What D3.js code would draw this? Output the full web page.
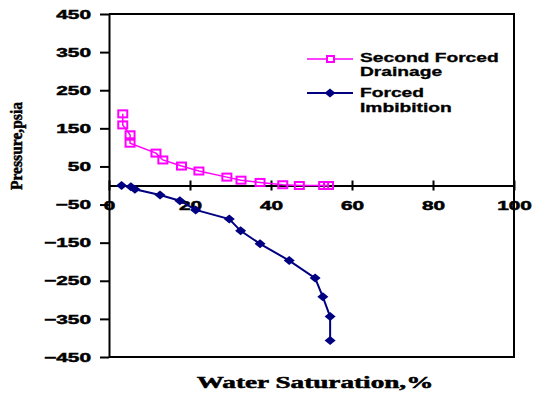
<!DOCTYPE html>
<html>
<head>
<meta charset="utf-8">
<script src="https://cdn.jsdelivr.net/npm/d3@7"></script>
<style>
  body { margin: 0; background: #fff; }
  svg { display: block; }
  .tick text { font-family: "Liberation Sans", Arial, sans-serif; font-weight: bold; font-size: 13px; fill: #000; stroke: #000; stroke-width: 0.5px; }
</style>
</head>
<body>
<svg width="538" height="398"></svg>
<script>
// Second Forced Drainage (water saturation %, pressure psia)
var drainSw = [3.4, 3.4, 5.2, 5.2, 11.6, 13.3, 17.9, 22.2, 29.1, 32.6, 37.3, 42.9, 47.0, 53.0, 54.2];
var drainP = [188, 159, 133, 111, 85, 67, 51, 38, 22, 14, 8, 2, 0, 0, 0];
// Forced Imbibition
var imbSw = [3.1, 5.4, 6.4, 12.6, 17.5, 21.4, 29.7, 32.5, 37.3, 44.5, 50.9, 52.8, 54.6, 54.6];
var imbP = [0, -3, -10, -25, -40, -64, -88, -119, -153, -197, -243, -292, -344, -407];

var xTicks = [0, 20, 40, 60, 80, 100];
var yTicks = [450, 350, 250, 150, 50, -50, -150, -250, -350, -450];
var seriesNames = [["Second Forced", "Drainage"], ["Forced", "Imbibition"]];

var svg = d3.select("svg");
var x = d3.scaleLinear().domain([0, 100]).range([109, 514]);
var y = d3.scaleLinear().domain([-450, 450]).range([357, 14]);

var stretch = 1.6; // text in the picture is drawn wide
function widen(sel, k) {
    sel.each(function () {
        var w = this.getComputedTextLength();
        d3.select(this).attr("textLength", w * k).attr("lengthAdjust", "spacingAndGlyphs");
    });
}

// frame: top, right, bottom
svg.append("path")
    .attr("d", "M" + x(0) + "," + y(450) + "H" + x(100) + "V" + y(-450) + "H" + x(0))
    .attr("fill", "none").attr("stroke", "#000").attr("stroke-width", 2);

// y axis
var yAxis = svg.append("g")
    .attr("transform", "translate(" + x(0) + ",0)")
    .call(d3.axisLeft(y).tickValues(yTicks).tickSize(9).tickSizeOuter(0).tickPadding(9));
yAxis.selectAll("line, path").attr("stroke", "#000").attr("stroke-width", 2);
widen(yAxis.selectAll("text"), stretch);

// x axis through zero
var xAxis = svg.append("g")
    .attr("transform", "translate(0," + y(0) + ")")
    .call(d3.axisBottom(x).tickValues(xTicks).tickSize(5).tickSizeOuter(0));
xAxis.selectAll("line, path").attr("stroke", "#000").attr("stroke-width", 2);
xAxis.selectAll(".tick line").attr("y1", -5);
xAxis.selectAll("text").attr("y", 24.5).attr("dy", 0);
widen(xAxis.selectAll("text"), stretch);

var line = d3.line().x(function (d) { return x(d[0]); }).y(function (d) { return y(d[1]); });
var drain = drainSw.map(function (v, i) { return [v, drainP[i]]; });
var imb = imbSw.map(function (v, i) { return [v, imbP[i]]; });

// drainage curve
svg.append("path").datum(drain)
    .attr("d", line).attr("fill", "none").attr("stroke", "#ff00ff").attr("stroke-width", 1.5);
svg.selectAll(".sq").data(drain).enter().append("rect")
    .attr("class", "sq")
    .attr("x", function (d) { return x(d[0]) - 4.5; })
    .attr("y", function (d) { return y(d[1]) - 3.5; })
    .attr("width", 9).attr("height", 7)
    .attr("fill", "none").attr("stroke", "#ff00ff").attr("stroke-width", 2);

// imbibition curve
function diamond(cx, cy) {
    return "M" + (cx - 5.5) + "," + cy + "L" + cx + "," + (cy - 4.5) + "L" + (cx + 5.5) + "," + cy + "L" + cx + "," + (cy + 4.5) + "Z";
}
svg.append("path").datum(imb)
    .attr("d", line).attr("fill", "none").attr("stroke", "#000080").attr("stroke-width", 2);
svg.selectAll(".dm").data(imb).enter().append("path")
    .attr("class", "dm")
    .attr("d", function (d) { return diamond(x(d[0]), y(d[1])); })
    .attr("fill", "#000080");

// legend
var lg = svg.append("g");
lg.append("line").attr("x1", 307).attr("x2", 353).attr("y1", 59).attr("y2", 59)
    .attr("stroke", "#ff00ff").attr("stroke-width", 1.5);
lg.append("rect").attr("x", 327).attr("y", 56).attr("width", 7).attr("height", 6)
    .attr("fill", "#fff").attr("stroke", "#ff00ff").attr("stroke-width", 2);
lg.append("line").attr("x1", 307).attr("x2", 353).attr("y1", 93).attr("y2", 93)
    .attr("stroke", "#000080").attr("stroke-width", 2);
lg.append("path").attr("d", diamond(330, 93)).attr("fill", "#000080");

var lt = lg.selectAll("text.lab")
    .data([[seriesNames[0][0], 62], [seriesNames[0][1], 76], [seriesNames[1][0], 97], [seriesNames[1][1], 112]])
    .enter().append("text")
    .attr("class", "lab")
    .attr("x", 360).attr("y", function (d) { return d[1]; })
    .style("font-family", "'Liberation Sans', Arial, sans-serif")
    .style("font-weight", "bold").style("font-size", "12px")
    .style("stroke", "#000").style("stroke-width", "0.3px")
    .text(function (d) { return d[0]; });
widen(lt, 1.6);

// axis titles
var xt = svg.append("text")
    .attr("x", 315).attr("y", 388)
    .attr("text-anchor", "middle")
    .style("font-family", "'Liberation Serif', 'Times New Roman', serif")
    .style("font-weight", "bold").style("font-size", "17px")
    .style("stroke", "#000").style("stroke-width", "0.5px")
    .text("Water Saturation,%");
widen(xt, stretch);

var yt = svg.append("text")
    .attr("transform", "translate(22,146) rotate(-90)")
    .attr("text-anchor", "middle")
    .style("font-family", "'Liberation Serif', 'Times New Roman', serif")
    .style("font-weight", "bold").style("font-size", "17px")
    .style("stroke", "#000").style("stroke-width", "0.5px")
    .text("Pressure,psia");
yt.attr("textLength", 88).attr("lengthAdjust", "spacingAndGlyphs");
</script>
</body>
</html>
